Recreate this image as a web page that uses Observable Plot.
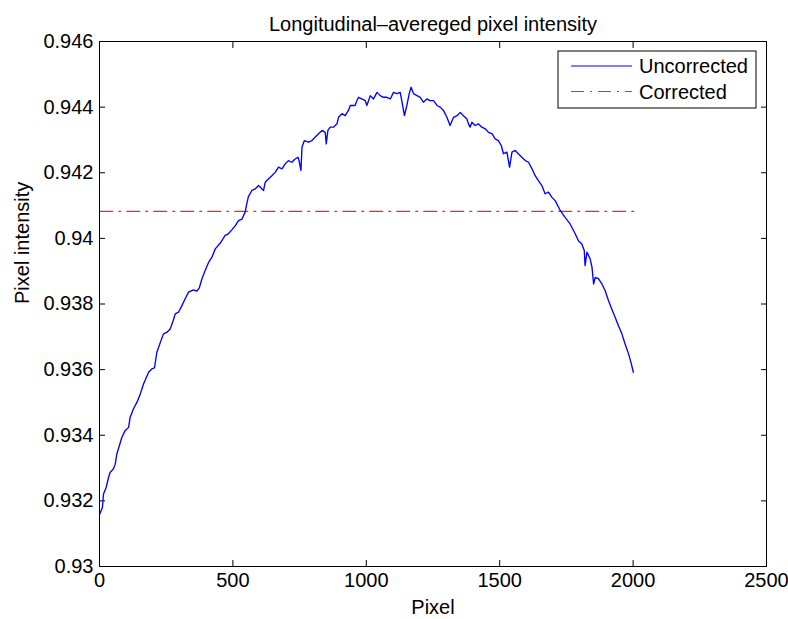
<!DOCTYPE html>
<html>
<head>
<meta charset="utf-8">
<script src="https://cdn.jsdelivr.net/npm/d3@7"></script>
<script src="https://cdn.jsdelivr.net/npm/@observablehq/plot@0.6"></script>
<style>
  html, body { margin: 0; padding: 0; background: #fff; }
  #chart { width: 788px; height: 619px; }
</style>
</head>
<body>
<div id="chart"></div>
<script>
const titleText = "Longitudinal\u2013avereged pixel intensity";
const xLabel = "Pixel";
const yLabel = "Pixel intensity";
const seriesNames = ["Uncorrected", "Corrected"];

const xTicks = [0, 500, 1000, 1500, 2000, 2500];
const yTicks = [0.930, 0.932, 0.934, 0.936, 0.938, 0.940, 0.942, 0.944, 0.946];
const yTickLabels = ["0.93", "0.932", "0.934", "0.936", "0.938", "0.94", "0.942", "0.944", "0.946"];

const pixel = [1,11,15,25,34,40,52,59,65,78,84,96,109,115,127,140,153,165,184,196,206,215,228,240,253,265,276,284,296,309,321,334,352,365,374,384,396,409,421,434,452,471,483,496,509,521,534,540,546,552,558,571,584,596,615,621,633,646,659,671,684,696,708,721,733,744,748,755,759,768,783,796,808,821,834,846,850,856,865,877,890,896,909,921,933,940,958,965,971,983,996,1002,1015,1027,1040,1052,1064,1077,1090,1102,1115,1127,1133,1143,1152,1161,1168,1177,1190,1202,1214,1227,1239,1252,1265,1277,1289,1302,1314,1327,1340,1352,1364,1377,1383,1389,1396,1408,1420,1433,1446,1458,1471,1483,1495,1506,1514,1527,1537,1546,1558,1570,1583,1596,1608,1621,1633,1645,1658,1670,1683,1696,1708,1727,1745,1764,1783,1795,1808,1817,1820,1827,1839,1846,1852,1858,1870,1883,1895,1908,1920,1933,1945,1958,1970,1983,1992,2001];

const uncorrected = [0.93160,0.93180,0.93221,0.93241,0.93272,0.93287,0.93297,0.93312,0.93343,0.93378,0.93394,0.93414,0.93424,0.93455,0.93480,0.93500,0.93526,0.93556,0.93592,0.93602,0.93605,0.93653,0.93683,0.93709,0.93714,0.93724,0.93749,0.93770,0.93775,0.93795,0.93816,0.93836,0.93843,0.93839,0.93849,0.93877,0.93902,0.93927,0.93942,0.93968,0.93985,0.94009,0.94014,0.94026,0.94039,0.94054,0.94059,0.94070,0.94080,0.94105,0.94127,0.94146,0.94151,0.94161,0.94146,0.94171,0.94181,0.94191,0.94202,0.94217,0.94212,0.94227,0.94237,0.94232,0.94242,0.94247,0.94237,0.94207,0.94278,0.94298,0.94293,0.94298,0.94308,0.94319,0.94329,0.94323,0.94288,0.94329,0.94339,0.94339,0.94349,0.94369,0.94380,0.94374,0.94390,0.94405,0.94405,0.94420,0.94430,0.94425,0.94420,0.94405,0.94435,0.94425,0.94445,0.94435,0.94430,0.94430,0.94425,0.94445,0.94441,0.94445,0.94420,0.94374,0.94405,0.94441,0.94461,0.94441,0.94435,0.94430,0.94415,0.94425,0.94420,0.94420,0.94405,0.94400,0.94390,0.94369,0.94344,0.94369,0.94374,0.94384,0.94374,0.94364,0.94349,0.94339,0.94354,0.94344,0.94349,0.94339,0.94334,0.94323,0.94319,0.94303,0.94298,0.94283,0.94258,0.94263,0.94217,0.94263,0.94268,0.94258,0.94247,0.94237,0.94232,0.94212,0.94191,0.94176,0.94161,0.94136,0.94141,0.94125,0.94115,0.94085,0.94064,0.94044,0.94014,0.93993,0.93983,0.93963,0.93917,0.93958,0.93937,0.93912,0.93861,0.93881,0.93877,0.93861,0.93841,0.93810,0.93785,0.93759,0.93734,0.93709,0.93678,0.93648,0.93622,0.93592];

const correctedX = [1, 2008];
const correctedY = [0.94082, 0.94082];

const lineData = pixel.map((p, i) => ({x: p, y: uncorrected[i]}));
const corrData = correctedX.map((p, i) => ({x: p, y: correctedY[i]}));

const FONT = "'Liberation Sans', Arial, Helvetica, sans-serif";
const BLUE = "#0000ff";
const RED = "#ff2020";
const DASH = "13,6,2,6";

const plot = Plot.plot({
  width: 788,
  height: 619,
  marginTop: 41,
  marginRight: 22,
  marginBottom: 53,
  marginLeft: 99,
  style: {fontFamily: FONT, fontSize: "20px", background: "#fff", overflow: "visible"},
  x: {domain: [0, 2500], label: null},
  y: {domain: [0.930, 0.946], label: null},
  marks: [
    Plot.axisX(xTicks, {anchor: "bottom", tickSize: 0, tickPadding: 6, fontSize: 20, fill: "#000", tickFormat: d => String(d)}),
    Plot.axisX(xTicks, {anchor: "bottom", tickSize: -6, stroke: "#000", tickFormat: () => ""}),
    Plot.axisX(xTicks, {anchor: "top", tickSize: -6, stroke: "#000", tickFormat: () => ""}),
    Plot.axisY(yTicks, {anchor: "left", tickSize: 0, tickPadding: 6, fontSize: 20, fill: "#000", tickFormat: d => yTickLabels[yTicks.indexOf(d)]}),
    Plot.axisY(yTicks, {anchor: "left", tickSize: -6, stroke: "#000", tickFormat: () => ""}),
    Plot.axisY(yTicks, {anchor: "right", tickSize: -6, stroke: "#000", tickFormat: () => ""}),
    Plot.line(corrData, {x: "x", y: "y", stroke: RED, strokeWidth: 1.2, strokeDasharray: DASH}),
    Plot.line(lineData, {x: "x", y: "y", stroke: BLUE, strokeWidth: 1.35}),
    Plot.frame({stroke: "#000", strokeWidth: 1}),
    Plot.text([titleText], {text: d => d, frameAnchor: "top", lineAnchor: "middle", dy: -17, fontSize: 20, fill: "#000"}),
    Plot.text([xLabel], {text: d => d, frameAnchor: "bottom", lineAnchor: "middle", dy: 41, fontSize: 20, fill: "#000"}),
    Plot.text([yLabel], {text: d => d, frameAnchor: "left", lineAnchor: "middle", dx: -77, rotate: -90, fontSize: 20, fill: "#000"})
  ]
});

document.getElementById("chart").appendChild(plot);

// Legend (MATLAB-style box in the upper right)
const svg = d3.select(plot);
const lg = svg.append("g").attr("class", "legend");
lg.append("rect").attr("x", 558).attr("y", 51).attr("width", 198).attr("height", 57)
  .attr("fill", "#fff").attr("stroke", "#000").attr("stroke-width", 1);
const rows = [
  {name: seriesNames[0], color: BLUE, dash: null, y: 66},
  {name: seriesNames[1], color: RED, dash: DASH, y: 91.5}
];
rows.forEach(r => {
  lg.append("line").attr("x1", 571).attr("x2", 632).attr("y1", r.y).attr("y2", r.y)
    .attr("stroke", r.color).attr("stroke-width", 1.2).attr("stroke-dasharray", r.dash);
  lg.append("text").attr("x", 639).attr("y", r.y).attr("dy", "0.35em")
    .attr("text-anchor", "start")
    .attr("font-family", FONT).attr("font-size", 20).attr("fill", "#000").text(r.name);
});
</script>
</body>
</html>
